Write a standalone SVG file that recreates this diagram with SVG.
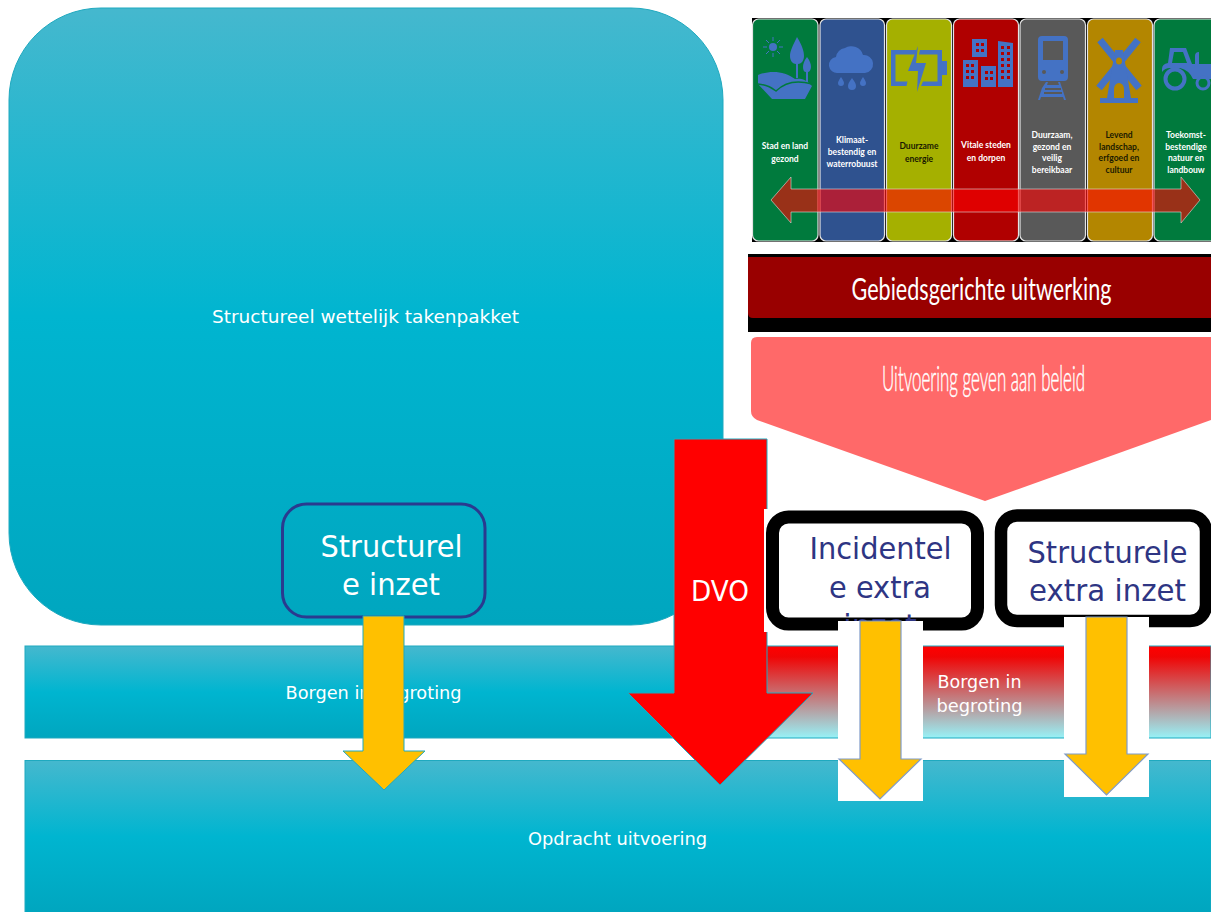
<svg xmlns="http://www.w3.org/2000/svg" width="1211" height="912" viewBox="0 0 1211 912">
<style>
.t{font-family:"DejaVu Sans","Liberation Sans",sans-serif;fill:#fff;text-anchor:middle}
.b{font-family:"DejaVu Sans","Liberation Sans",sans-serif;fill:#2E3583;text-anchor:middle;font-size:30px}
.c{font-family:"Lato","Liberation Sans",sans-serif;font-weight:700;font-size:8.500px;text-anchor:middle;fill:#fff}
.d{fill:#1a1a00}
.n{font-family:"Lato","Liberation Sans",sans-serif;fill:#fff;text-anchor:middle}
.col{stroke:#e4e4e4;stroke-width:1.2}
.i{fill:#4472C4}
.teal{stroke:#1FA9BF;stroke-width:1}
.or{fill:#FFC000}
.ob{stroke:#7F9BC8;stroke-width:1.2}
</style>
<defs>
<linearGradient id="g1" x1="0" y1="0" x2="0" y2="1"><stop offset="0" stop-color="#45B8CE"/><stop offset=".5" stop-color="#00B5D0"/><stop offset="1" stop-color="#00A6BF"/></linearGradient>
<linearGradient id="g2" x1="0" y1="0" x2="0" y2="1"><stop offset="0" stop-color="#FF0000"/><stop offset=".12" stop-color="#F00505"/><stop offset="1" stop-color="#97F2F7"/></linearGradient>
</defs>

<g id="structureel-takenpakket">
<rect class="teal" x="9" y="8" width="714" height="617" rx="92" fill="url(#g1)"/>
<text class="t" x="365.500" y="323" font-size="18" textLength="307" lengthAdjust="spacingAndGlyphs">Structureel wettelijk takenpakket</text>
</g>

<g id="borgen-links">
<rect class="teal" x="25" y="646" width="742" height="92" fill="url(#g1)"/>
<text class="t" x="373.500" y="699" font-size="18" textLength="176" lengthAdjust="spacingAndGlyphs">Borgen in begroting</text>
</g>
<g id="borgen-rechts">
<rect class="teal" x="766" y="646" width="445" height="92" fill="url(#g2)"/>
<text class="t" x="979.500" y="688" font-size="18" textLength="84" lengthAdjust="spacingAndGlyphs">Borgen in</text>
<text class="t" x="979.500" y="712" font-size="18" textLength="86" lengthAdjust="spacingAndGlyphs">begroting</text>
</g>
<g id="opdracht-uitvoering">
<rect class="teal" x="25" y="760.500" width="1186" height="152" fill="url(#g1)"/>
<text class="t" x="617.500" y="845" font-size="18" textLength="179" lengthAdjust="spacingAndGlyphs">Opdracht uitvoering</text>
</g>

<g id="opgaven-paneel">
<rect x="752" y="18" width="459" height="224" fill="#000"/>
<rect class="col" x="752.500" y="19" width="65.500" height="222" rx="6" fill="#007A3D"/>
<rect class="col" x="820" y="19" width="64.500" height="222" rx="6" fill="#2F528F"/>
<rect class="col" x="886.500" y="19" width="65" height="222" rx="6" fill="#A5B000"/>
<rect class="col" x="953.500" y="19" width="65" height="222" rx="6" fill="#B00000"/>
<rect class="col" x="1020" y="19" width="65.500" height="222" rx="6" fill="#595959"/>
<rect class="col" x="1087.500" y="19" width="65" height="222" rx="6" fill="#B38600"/>
<rect class="col" x="1154" y="19" width="70" height="222" rx="6" fill="#007A3D"/>

<g id="icon-stad">
<circle class="i" cx="773" cy="47" r="4"/>
<path d="M773 37v4M773 53v4M763 47h4M779 47h4M766 40l3 3M777 51l3 3M780 40l-3 3M769 51l-3 3" stroke="#4472C4" stroke-width="1"/>
<path class="i" d="M797 37c5 8 7 14 7 19c0 5-3 8-6 8v14h-2v-14c-3 0-6-3-6-8c0-5 3-11 7-19z"/>
<path class="i" d="M807 57c3 4 4 7 4 10c0 3-2 5-3 5v10h-2v-10c-2 0-3-2-3-5c0-3 1-6 4-10z"/>
<path class="i" d="M758 75C770 70 785 71 795 79C800 78 806 79 812 86L805 99H772L758 84z"/>
<path d="M758 84C768 85 772 88 776 91C785 82 798 80 812 84" fill="none" stroke="#007A3D" stroke-width="1.500"/>
</g>
<g id="icon-klimaat">
<path class="i" d="M838 73a8 8 0 0 1-2-16a11 11 0 0 1 9-9a12 12 0 0 1 18 7a9 9 0 0 1 2 18z"/>
<path class="i" d="M841 77c2 3 3 5 3 6a3 3 0 0 1-6 0c0-1 1-3 3-6zM852 78c3 4 4 6 4 8a4 4 0 0 1-8 0c0-2 1-4 4-8zM863 77c2 3 3 5 3 6a3 3 0 0 1-6 0c0-1 1-3 3-6z"/>
</g>
<g id="icon-energie">
<path class="i" d="M891 50h26l-2 4.500h-19.500v27h12l-1 4.500h-15.500zM920 50h22v11h5v14h-5v11h-21l2-4.500h14.500v-27h-18.500z"/>
<path class="i" d="M918 46l-2 17h10l-9 29l1-21h-10z"/>
</g>
<g id="icon-steden">
<rect class="i" x="972" y="39" width="15" height="18"/>
<rect class="i" x="963" y="60" width="15" height="27"/>
<rect class="i" x="981" y="66" width="15" height="21"/>
<path class="i" d="M998 41l15 2v44h-15z"/>
<path fill="#B00000" d="M976 43h3v3h-3zM981 43h3v3h-3zM976 49h3v3h-3zM981 49h3v3h-3zM966 64h3v3h-3zM971 64h3v3h-3zM966 70h3v3h-3zM971 70h3v3h-3zM966 76h3v3h-3zM971 76h3v3h-3zM985 71h3v3h-3zM990 71h3v3h-3zM985 77h3v3h-3zM990 77h3v3h-3zM1001 46h3v3h-3zM1007 46h3v3h-3zM1001 52h3v3h-3zM1007 52h3v3h-3zM1001 58h3v3h-3zM1007 58h3v3h-3zM1001 64h3v3h-3zM1007 64h3v3h-3zM1001 70h3v3h-3zM1007 70h3v3h-3zM1001 76h3v3h-3zM1007 76h3v3h-3z"/>
</g>
<g id="icon-bereikbaar">
<path class="i" fill-rule="evenodd" d="M1042 36h22a4 4 0 0 1 4 4v37a4 4 0 0 1-4 4h-22a4 4 0 0 1-4-4v-37a4 4 0 0 1 4-4zM1043 41v19h20v-19z"/>
<circle cx="1044" cy="72" r="2" fill="#595959"/><circle cx="1062" cy="72" r="2" fill="#595959"/>
<path class="i" d="M1046 82h2l-1 3h12l-1-3h2l6 18h-2l-1-3h-22l-1 3h-2l4-12zM1045 88h16v2h-16zM1044 92h18v2h-18z" fill-rule="evenodd"/>
</g>
<g id="icon-landschap">
<path d="M1100 40L1139 88M1138 40L1099 88" stroke="#4472C4" stroke-width="7"/>
<path class="i" d="M1115 50h8l8 48h7v5h-38v-5h7z"/>
<ellipse cx="1119" cy="61" rx="3" ry="3.500" fill="#B38600"/>
<path fill="#B38600" d="M1114 98v-9a5 6 0 0 1 10 0v9z"/>
</g>
<g id="icon-natuur">
<path class="i" fill-rule="evenodd" d="M1170 48H1186L1192 64H1195V56Q1195 52 1199 52V64H1211V79H1193Q1189 70 1180 68H1170Q1165 68 1162 72V69Q1162 64 1168 63zM1174 52L1172 63H1187L1183 52z"/>
<circle cx="1175" cy="79" r="9.500" fill="none" stroke="#4472C4" stroke-width="4"/>
<circle cx="1203" cy="83" r="6" fill="none" stroke="#4472C4" stroke-width="3"/>
</g>

<text class="c" x="785" y="149">Stad en land</text><text class="c" x="785" y="161.500">gezond</text>
<text class="c" x="852" y="143">Klimaat-</text><text class="c" x="852" y="155">bestendig en</text><text class="c" x="852" y="166.500">waterrobuust</text>
<text class="c d" x="919" y="149">Duurzame</text><text class="c d" x="919" y="161.500">energie</text>
<text class="c" x="986" y="148">Vitale steden</text><text class="c" x="986" y="160.500">en dorpen</text>
<text class="c" x="1052" y="137.500">Duurzaam,</text><text class="c" x="1052" y="149.500">gezond en</text><text class="c" x="1052" y="161">veilig</text><text class="c" x="1052" y="173">bereikbaar</text>
<text class="c d" x="1119" y="137.500">Levend</text><text class="c d" x="1119" y="149.500">landschap,</text><text class="c d" x="1119" y="161">erfgoed en</text><text class="c d" x="1119" y="173">cultuur</text>
<text class="c" x="1186" y="137.500">Toekomst-</text><text class="c" x="1186" y="149.500">bestendige</text><text class="c" x="1186" y="161">natuur en</text><text class="c" x="1186" y="173">landbouw</text>
<path d="M771 200L791 177V189H1181V177L1200 200L1181 223V212H791V223z" fill="#FF0000" fill-opacity=".6" stroke="#ddd" stroke-opacity=".6" stroke-width="1"/>
</g>

<g id="gebiedsgerichte-uitwerking">
<rect x="748" y="254" width="463" height="78" fill="#000"/>
<path d="M748 257H1211V318H753Q748 318 748 313z" fill="#990000"/>
<text class="n" transform="translate(981.500 300) scale(.7 1)" font-size="31" textLength="371.400" lengthAdjust="spacingAndGlyphs">Gebiedsgerichte uitwerking</text>
</g>

<g id="uitvoering-beleid">
<path d="M757 337H1211V420L985 501L757 420Q751 417 751 411V343Q751 337 757 337z" fill="#FF6969"/>
<text class="n" transform="translate(983.500 391) scale(.5 1)" font-size="36" font-weight="300" stroke="#fff" stroke-width=".5" textLength="406" lengthAdjust="spacingAndGlyphs">Uitvoering geven aan beleid</text>
</g>

<g id="connectors">
<path id="dvo" class="teal" d="M674 439H767V693H813L720 785L628 693H674z" fill="#FF0000"/>
<text class="t" x="720" y="601" font-size="29" textLength="58" lengthAdjust="spacingAndGlyphs">DVO</text>
</g>

<g id="structurele-inzet">
<rect x="282.500" y="504" width="202.500" height="113" rx="24" fill="none" stroke="#2A3A8F" stroke-width="3"/>
<text class="t" x="391.500" y="557" font-size="30" textLength="142" lengthAdjust="spacingAndGlyphs">Structurel</text>
<text class="t" x="391" y="595" font-size="30" textLength="98" lengthAdjust="spacingAndGlyphs">e inzet</text>
</g>

<g id="incidentele-extra-inzet">
<rect x="764" y="509" width="20" height="123" fill="#fff"/>
<rect x="772.500" y="517" width="205" height="107" rx="16" fill="#fff" stroke="#000" stroke-width="13"/>
<text class="b" x="880.500" y="559" textLength="142" lengthAdjust="spacingAndGlyphs">Incidentel</text>
<text class="b" x="880" y="598" textLength="102" lengthAdjust="spacingAndGlyphs">e extra</text>
<text class="b" x="880" y="636">inzet</text>
</g>

<g id="structurele-extra-inzet">
<rect x="1001" y="515.500" width="205" height="105.500" rx="16" fill="#fff" stroke="#000" stroke-width="12.500"/>
<text class="b" x="1107.500" y="563" textLength="160" lengthAdjust="spacingAndGlyphs">Structurele</text>
<text class="b" x="1107.500" y="601" textLength="157" lengthAdjust="spacingAndGlyphs">extra inzet</text>
</g>

<g id="inzet-pijlen">
<path class="or teal" d="M363 616H404V751H425L384 790L343 751H363z"/>
<rect x="838" y="621" width="85" height="180" fill="#fff"/>
<path class="or ob" d="M860 621H901V759H921L880 799L839 759H860z"/>
<rect x="1064" y="617" width="85" height="180" fill="#fff"/>
<path class="or ob" d="M1086 617H1127V754H1148L1106.500 795L1065 754H1086z"/>
</g>
</svg>
